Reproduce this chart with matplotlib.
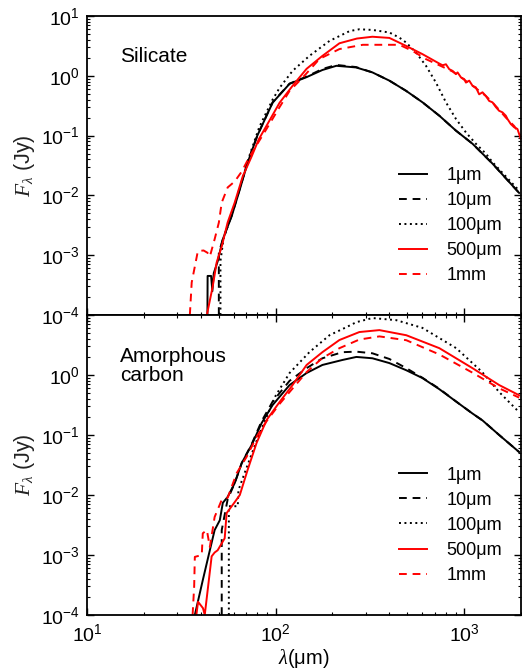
import matplotlib
matplotlib.use("Agg")
from matplotlib import pyplot as plt

plt.rcParams['font.family'] = ['Liberation Sans', 'DejaVu Sans']
plt.rcParams['mathtext.fontset'] = 'custom'
plt.rcParams['mathtext.rm'] = 'Liberation Sans'
plt.rcParams['mathtext.it'] = 'Liberation Serif:italic'
plt.rcParams['axes.unicode_minus'] = False

# grain sizes (legend labels)
labels = ["1μm", "10μm", "100μm", "500μm", "1mm"]

# ---- Silicate panel: wavelength (um) / flux (Jy) ----
sil_1um_wl = [43.5, 43.6, 45.5, 46.2, 47.0, 49.3, 52.5, 58.5, 64.6, 71, 80, 96.4, 118.6, 146, 177, 210,
              267, 326, 401, 492, 601, 738, 904, 1107, 1412, 1955]
sil_1um_f = [1e-4, 4.5e-4, 4.5e-4, 2.5e-4, 5e-4, 7.9e-4, 1.85e-3, 4.5e-3, 0.0126, 0.035, 0.1, 0.355, 0.735,
             0.95, 1.25, 1.47, 1.38, 1.14, 0.83, 0.56, 0.36, 0.215, 0.121, 0.073, 0.034, 0.011]

sil_10um_wl = [50, 50, 52.5, 58.5, 64.6, 71, 80, 96.4, 118.6, 146, 177, 210, 267, 326, 401, 492, 601,
               738, 904, 1107, 1412, 1955]
sil_10um_f = [1e-4, 1.1e-3, 1.85e-3, 4.6e-3, 0.013, 0.036, 0.1, 0.36, 0.74, 0.97, 1.3, 1.52, 1.4, 1.14,
              0.83, 0.56, 0.36, 0.215, 0.121, 0.073, 0.034, 0.011]

sil_100um_wl = [51, 51, 53, 58.5, 64.6, 72.8, 82, 96.4, 105, 123, 151, 193, 247, 278, 326, 401, 453, 492,
                555, 627, 708, 800, 904, 1021, 1153, 1302, 1412, 1955]
sil_100um_f = [1e-4, 8e-4, 1.9e-3, 4.8e-3, 0.0135, 0.047, 0.14, 0.4, 0.63, 1.21, 2.15, 3.83, 5.6, 6.0,
               5.85, 5.3, 4.35, 3.6, 2.45, 1.47, 0.77, 0.36, 0.19, 0.113, 0.073, 0.05, 0.036, 0.012]

sil_500um_wl = [43.2, 46.4, 48.7, 51.8, 55.7, 60.7, 66.9, 74.6, 81.3, 89.6, 105, 123, 146, 177, 218, 270,
                326, 401, 492, 601, 738, 768, 800, 833, 867, 904, 922, 961, 1000, 1021, 1063, 1107, 1153,
                1200, 1250, 1302, 1356, 1412, 1471, 1531, 1595, 1662, 1695, 1766, 1839, 1915, 1995]
sil_500um_f = [1e-4, 3e-4, 7.6e-4, 1.4e-3, 3.55e-3, 7.6e-3, 0.0207, 0.0447, 0.086, 0.147, 0.355, 0.68,
               1.31, 2.15, 3.5, 4.2, 4.5, 4.3, 3.16, 2.3, 1.6, 1.5, 1.56, 1.29, 1.21, 1.07, 1.14, 0.94,
               0.88, 0.77, 0.83, 0.68, 0.64, 0.49, 0.53, 0.46, 0.38, 0.36, 0.30, 0.26, 0.245, 0.215, 0.19,
               0.156, 0.138, 0.129, 0.088]

sil_1mm_wl = [35.1, 35.9, 38.7, 41.5, 43.5, 44.8, 47.5, 50, 51.8, 55.7, 60.7, 66.1, 72.8, 89.6, 105,
              118.6, 139, 171, 218, 290, 453, 533, 627, 738, 867, 1000, 1153, 1302, 1412, 1531, 1662,
              1839, 1995]
sil_1mm_f = [1e-4, 3.5e-4, 1.17e-3, 1.2e-3, 1.1e-3, 9.5e-4, 1.85e-3, 3.5e-3, 7.6e-3, 0.0136, 0.0171,
             0.025, 0.0447, 0.13, 0.3, 0.56, 0.93, 1.92, 2.8, 3.3, 3.3, 2.6, 1.9, 1.5, 1.18, 0.86, 0.62,
             0.46, 0.36, 0.27, 0.2, 0.145, 0.1]

# ---- Amorphous carbon panel ----
car_1um_wl = [37.3, 41.1, 44.8, 47.5, 50.6, 52.5, 55.7, 60.7, 66.1, 74.6, 84.3, 96.4, 118.6, 146, 177,
              226, 268, 326, 401, 493, 600, 738, 907, 1102, 1250, 1532, 1750, 1955]
car_1um_f = [1e-4, 3.8e-4, 1.2e-3, 2.6e-3, 3.8e-3, 7.4e-3, 9.3e-3, 0.0158, 0.034, 0.068, 0.158, 0.316,
             0.68, 1.08, 1.47, 1.78, 2.0, 1.9, 1.58, 1.2, 0.89, 0.58, 0.36, 0.23, 0.175, 0.1, 0.07, 0.052]

car_10um_wl = [51.8, 51.8, 55.7, 60.7, 66.1, 74.6, 84.3, 96.4, 118.6, 146, 177, 226, 268, 326, 401, 493,
               600, 738, 907, 1102, 1250, 1532, 1750, 1955]
car_10um_f = [1e-4, 2.6e-3, 8.5e-3, 0.0158, 0.034, 0.07, 0.17, 0.36, 0.8, 1.3, 1.9, 2.4, 2.45, 2.3, 1.85,
              1.3, 0.9, 0.59, 0.36, 0.23, 0.175, 0.1, 0.07, 0.052]

car_100um_wl = [56.5, 56.5, 63, 63.5, 70, 79.3, 89.6, 100, 118.6, 151, 193, 238, 268, 326, 436, 600, 907,
                1245, 1532, 1955]
car_100um_f = [1e-4, 6.5e-3, 6.5e-3, 0.012, 0.028, 0.08, 0.2, 0.45, 1.08, 2.4, 4.6, 6.3, 7.6, 8.9, 8.2,
               6.1, 2.8, 1.12, 0.52, 0.24]

car_500um_wl = [38.0, 38.8, 41.2, 42.1, 45.8, 47.5, 49.3, 53.7, 55.0, 60.7, 64.6, 71, 79.3, 89.6, 105,
                123, 146, 177, 218, 278, 355, 493, 738, 1102, 1532, 1955]
car_500um_f = [1e-4, 1.66e-4, 1.3e-4, 1e-4, 9.5e-4, 1.1e-3, 1.2e-3, 1.9e-3, 5e-3, 7.6e-3, 0.01, 0.026,
               0.074, 0.178, 0.355, 0.68, 1.47, 2.4, 3.83, 5.2, 5.6, 4.6, 2.8, 1.31, 0.68, 0.46]

car_1mm_wl = [36.3, 37.0, 37.3, 40.6, 41.1, 43.2, 44.8, 47.5, 51.8, 55.7, 62.2, 70.1, 79.3, 89.6, 105,
              118.6, 146, 177, 218, 278, 355, 493, 738, 1102, 1532, 1955]
car_1mm_f = [1e-4, 3e-4, 9.3e-4, 1e-3, 2.3e-3, 2.6e-3, 1.36e-3, 4.3e-3, 8.3e-3, 9e-3, 0.0232, 0.043,
             0.093, 0.17, 0.33, 0.52, 1.12, 1.92, 2.8, 3.9, 4.4, 3.8, 2.2, 1.1, 0.6, 0.42]

styles = [
    dict(color="black", linestyle="-"),
    dict(color="black", linestyle=(0, (4, 3))),
    dict(color="black", linestyle=(0, (1, 1.8))),
    dict(color="red", linestyle="-"),
    dict(color="red", linestyle=(0, (4, 3))),
]

sil_series = [(sil_1um_wl, sil_1um_f), (sil_10um_wl, sil_10um_f), (sil_100um_wl, sil_100um_f),
              (sil_500um_wl, sil_500um_f), (sil_1mm_wl, sil_1mm_f)]
car_series = [(car_1um_wl, car_1um_f), (car_10um_wl, car_10um_f), (car_100um_wl, car_100um_f),
              (car_500um_wl, car_500um_f), (car_1mm_wl, car_1mm_f)]

W, H = 522, 670
fig = plt.figure(figsize=(W / 100, H / 100), dpi=100)
ax1 = fig.add_axes([87 / W, 1 - 315 / H, 434 / W, 299 / H])
ax2 = fig.add_axes([87 / W, 1 - 615 / H, 434 / W, 300 / H])


def draw(ax, series, title, title_y):
    for (wl, f), st, lab in zip(series, styles, labels):
        ax.plot(wl, f, lw=1.4, label=lab, **st)
    ax.set_xscale("log")
    ax.set_yscale("log")
    ax.set_xlim(10, 2000)
    ax.set_ylim(1e-4, 10)
    ax.tick_params(which="both", direction="in", right=True, labelsize=14, colors="black")
    ax.tick_params(which="major", length=5, width=1)
    ax.tick_params(which="minor", length=2.5, width=0.8)
    ax.tick_params(axis="y", which="major", pad=5)
    for sp in ax.spines.values():
        sp.set_linewidth(1.3)
    ax.set_ylabel(r"$F_\lambda$ (Jy)", fontsize=15.5, color="#222222", labelpad=3)
    ax.text(0.076, title_y, title, transform=ax.transAxes, fontsize=15,
            ha="left", va="center", linespacing=1.05)
    ax.legend(loc="upper left", bbox_to_anchor=(0.718, 0.495), frameon=False, fontsize=13,
              borderpad=0, borderaxespad=0, handlelength=1.55, handletextpad=1.1, labelspacing=0.45)


draw(ax1, sil_series, "Silicate", 0.863)
draw(ax2, car_series, "Amorphous\ncarbon", 0.83)

ax1.tick_params(axis="x", which="both", labelbottom=False, top=False)
ax2.tick_params(axis="x", which="both", top=True)
ax2.tick_params(axis="x", which="major", pad=6)
ax2.set_xlabel(r"$\lambda$(μm)", fontsize=14.5, labelpad=1)

# hide the 10^1 label of the lower panel (it sits under the upper panel's 10^-4)
fig.canvas.draw()
for tk in ax2.yaxis.get_major_ticks():
    if abs(tk.get_loc() - 10) < 1e-6:
        tk.label1.set_visible(False)

fig.savefig("out.png", dpi=100)
